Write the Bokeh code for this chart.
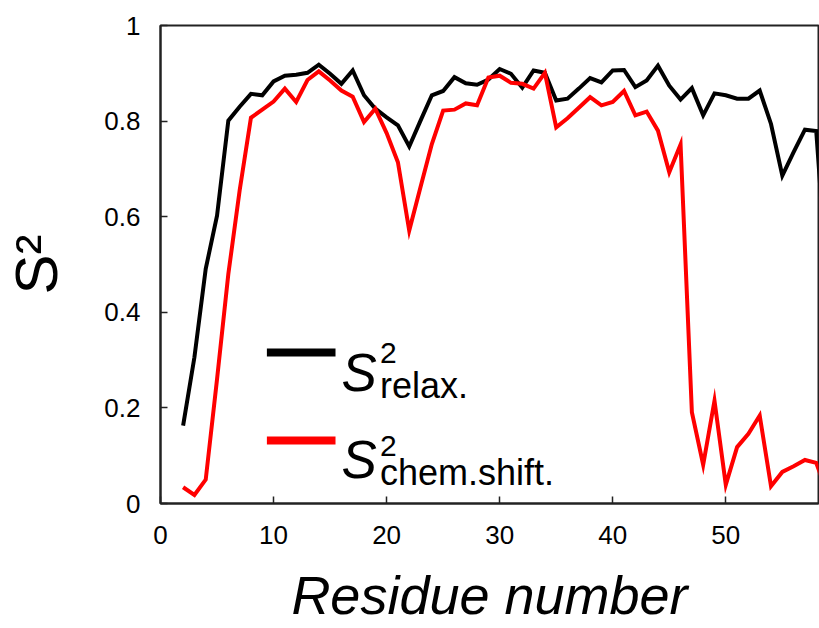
from bokeh.plotting import figure
from bokeh.models import Label, FixedTicker
from bokeh.embed import file_html
from bokeh.resources import INLINE

# ---- data ----
residues = list(range(2, 60))
s2_relax = [0.163, 0.306, 0.491, 0.602, 0.801, 0.830, 0.857, 0.854, 0.883, 0.895,
            0.897, 0.901, 0.918, 0.899, 0.878, 0.906, 0.854, 0.826, 0.808, 0.791,
            0.747, 0.801, 0.854, 0.863, 0.892, 0.879, 0.876, 0.887, 0.909, 0.899,
            0.870, 0.906, 0.901, 0.843, 0.847, 0.868, 0.890, 0.881, 0.906, 0.907,
            0.871, 0.885, 0.916, 0.874, 0.845, 0.869, 0.812, 0.858, 0.854, 0.847,
            0.847, 0.864, 0.794, 0.686, 0.735, 0.782, 0.779, 0.450]
s2_chem = [0.034, 0.018, 0.050, 0.260, 0.480, 0.655, 0.807, 0.824, 0.841, 0.868,
           0.840, 0.886, 0.904, 0.885, 0.864, 0.851, 0.798, 0.826, 0.775, 0.714,
           0.571, 0.662, 0.752, 0.822, 0.824, 0.837, 0.833, 0.891, 0.895, 0.880,
           0.878, 0.868, 0.901, 0.787, 0.806, 0.828, 0.850, 0.833, 0.840, 0.863,
           0.812, 0.820, 0.780, 0.693, 0.751, 0.191, 0.081, 0.215, 0.039, 0.118,
           0.146, 0.184, 0.036, 0.066, 0.078, 0.091, 0.085, 0.020]
x_ticks = [0, 10, 20, 30, 40, 50]
y_ticks = [0, 0.2, 0.4, 0.6, 0.8, 1]
y_tick_labels = ["0", "0.2", "0.4", "0.6", "0.8", "1"]
x_label = "Residue number"
y_label = "S\u00b2"

FONT = "Liberation Sans"
AX = "#222222"

p = figure(width=819, height=628, x_range=(0, 58.2), y_range=(0, 1),
           output_backend="svg", toolbar_location=None,
           min_border_left=156, min_border_right=1, min_border_top=25,
           min_border_bottom=125)
p.grid.visible = False
p.background_fill_color = "white"
p.border_fill_color = "white"
p.outline_line_color = AX
p.outline_line_width = 2

p.line(residues, s2_relax, line_color="black", line_width=4, line_join="miter")
p.line(residues, s2_chem, line_color="#ff0000", line_width=4, line_join="miter")

for ax in (p.xaxis[0], p.yaxis[0]):
    ax.axis_line_color = AX
    ax.axis_line_width = 2
    ax.major_tick_line_color = AX
    ax.major_tick_line_width = 1.5
    ax.major_tick_in = 7
    ax.major_tick_out = 0
    ax.minor_tick_line_color = None
    ax.major_label_text_font = FONT
    ax.major_label_text_font_size = "26px"
    ax.major_label_text_color = "black"
    ax.axis_label_text_color = "black"
    ax.axis_label_text_font = FONT

p.xaxis.ticker = FixedTicker(ticks=x_ticks)
p.yaxis.ticker = FixedTicker(ticks=y_ticks)
p.yaxis.major_label_overrides = {t: l for t, l in zip(y_ticks, y_tick_labels)}
p.xaxis.major_label_standoff = 22
p.yaxis.major_label_standoff = 20

p.xaxis.axis_label = x_label
p.xaxis.axis_label_text_font_style = "italic"
p.xaxis.axis_label_text_font_size = "54px"
p.xaxis.axis_label_standoff = 18

p.yaxis.axis_label = y_label
p.yaxis.axis_label_text_font_style = "normal"
p.yaxis.axis_label_text_font_size = "60px"
p.yaxis.axis_label_standoff = 31

# ---- legend (hand-built to allow super/subscripts) ----
leg_x0, leg_x1 = 9.41, 15.48
leg_rows = [
    dict(y=0.316, color="black", base=0.274, sup=0.314, sub=0.247, text="relax."),
    dict(y=0.132, color="#ff0000", base=0.092, sup=0.121, sub=0.0655, text="chem.shift."),
]
s_x = 16.0
script_x = 19.41
for row in leg_rows:
    p.line([leg_x0, leg_x1], [row["y"], row["y"]], line_color=row["color"], line_width=8)
    p.add_layout(Label(x=s_x, y=row["base"], text="S", text_font=FONT,
                       text_font_style="italic", text_font_size="53px",
                       text_baseline="alphabetic", text_color="black"))
    p.add_layout(Label(x=script_x, y=row["sup"], text="2", text_font=FONT,
                       text_font_size="30px", text_baseline="alphabetic",
                       text_color="black"))
    p.add_layout(Label(x=script_x, y=row["sub"], text=row["text"], text_font=FONT,
                       text_font_size="36px", text_baseline="alphabetic",
                       text_color="black"))

open("out.html", "w").write(file_html(p, INLINE))
